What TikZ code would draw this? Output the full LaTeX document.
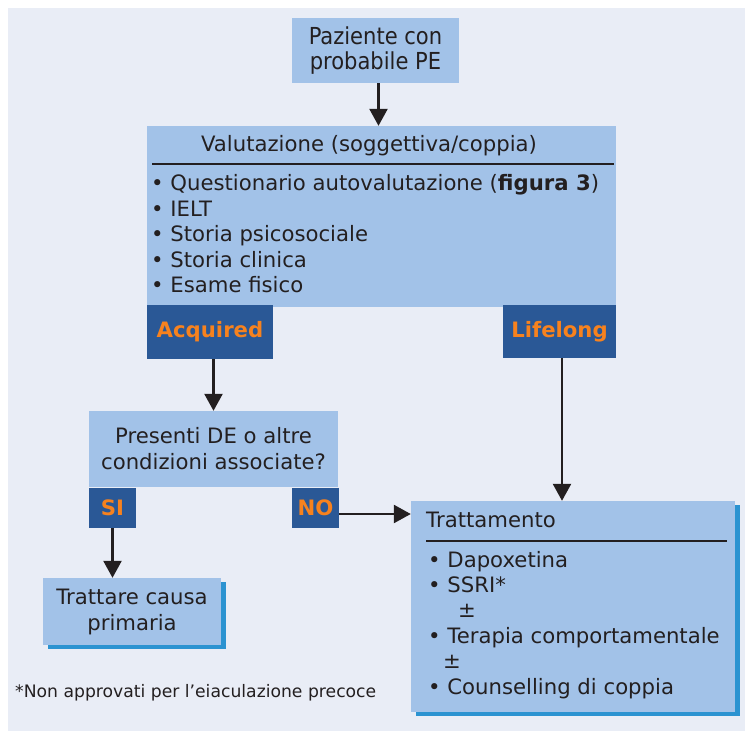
\documentclass[tikz,border=0pt]{standalone}
\usepackage{fontspec}
\setmainfont{DejaVu Sans}
\newfontfamily\condfont{DejaVu Sans Condensed}
\usetikzlibrary{arrows.meta,positioning,shadows}

\definecolor{panelbg}{HTML}{E9EDF6}
\definecolor{lightbox}{HTML}{A2C2E8}
\definecolor{darkbox}{HTML}{2A5896}
\definecolor{tagorange}{HTML}{F7821E}
\definecolor{shadowblue}{HTML}{2B93D1}
\definecolor{inktext}{HTML}{231F20}

\tikzset{
    lbox/.style={fill=lightbox, inner sep=0pt, text=inktext, align=center,
        font=\fontsize{21.2}{26}\selectfont},
    tagbox/.style={fill=darkbox, inner sep=0pt, text=tagorange,
        font=\fontsize{21.2}{26}\selectfont\bfseries},
    sbox/.style={lbox, drop shadow={shadow xshift=5pt, shadow yshift=-4pt,
        fill=shadowblue, opacity=1}},
    txt/.style={inner sep=0pt, text=inktext, align=left,
        font=\fontsize{21.2}{25.4}\selectfont},
    flow/.style={line width=2.5pt, draw=inktext,
        -{Triangle[width=18pt,length=17pt]}},
    rule/.style={line width=2pt, draw=inktext}
}

\begin{document}
\begin{tikzpicture}[x=1pt, y=-1pt]
    \useasboundingbox (0,0) rectangle (745,738);
    \fill[panelbg] (8,8) rectangle (745,731);

    % paziente
    \node[lbox, minimum width=167pt, minimum height=65pt,
        font=\fontsize{23.4}{25.5}\selectfont\condfont] (pz) at (375.5,50.5)
        {Paziente con\\probabile PE};

    % valutazione
    \node[lbox, minimum width=469pt, minimum height=181pt] (val) at (381.5,216.5) {};
    \node[txt, anchor=base] (valt) at (369,152) {Valutazione (soggettiva/coppia)};
    \coordinate (valr1) at (152,164);
    \coordinate (valr2) at (614,164);
    \draw[rule] (valr1) -- (valr2);
    \node[txt, anchor=base west] (vall) at (151,292.5)
        {• Questionario autovalutazione (\textbf{figura 3})\\
         • IELT\\
         • Storia psicosociale\\
         • Storia clinica\\
         • Esame fisico};

    \node[tagbox, minimum width=126pt, minimum height=54pt] (acq) at (210,332) {Acquired};
    \node[tagbox, minimum width=113pt, minimum height=53pt] (lif) at (559.5,331.5) {Lifelong};

    % condizioni associate
    \node[lbox, minimum width=249pt, minimum height=76pt] (pres) at (213.5,449)
        {Presenti DE o altre\\condizioni associate?};
    \node[tagbox, minimum width=47pt, minimum height=40pt] (si) at (112.5,508) {SI};
    \node[tagbox, minimum width=47pt, minimum height=40pt] (no) at (315.5,508) {NO};

    \node[sbox, minimum width=178pt, minimum height=67pt] (tc) at (132,611.5)
        {Trattare causa\\primaria};

    % trattamento
    \node[sbox, minimum width=324pt, minimum height=211pt] (trat) at (573,606.5) {};
    \node[txt, anchor=base west] (tratt) at (426,527) {Trattamento};
    \coordinate (tratr1) at (426,541);
    \coordinate (tratr2) at (727,541);
    \draw[rule] (tratr1) -- (tratr2);
    \node[txt, anchor=base west] (tratl) at (428,694)
        {• Dapoxetina\\
         • SSRI*\\
         \hspace*{30pt}±\\
         • Terapia comportamentale\\
         \hspace*{15pt}±\\
         • Counselling di coppia};

    \node[inner sep=0pt, anchor=west, text=inktext,
        font=\fontsize{17.2}{20}\selectfont] (nota) at (15,693)
        {*Non approvati per l’eiaculazione precoce};

    % frecce
    \draw[flow] ([xshift=3pt]pz.south) -- ([xshift=3pt]pz.south |- val.north);
    \draw[flow] (acq.south -| pres.north) -- (pres.north);
    \draw[flow] ([xshift=2.5pt]lif.south) -- ([xshift=2.5pt]lif.south |- trat.north);
    \draw[flow] (si.south) -- (si.south |- tc.north);
    \draw[flow] ([yshift=-6pt]no.east) -- ([yshift=-6pt]no.east -| trat.west);
\end{tikzpicture}
\end{document}
